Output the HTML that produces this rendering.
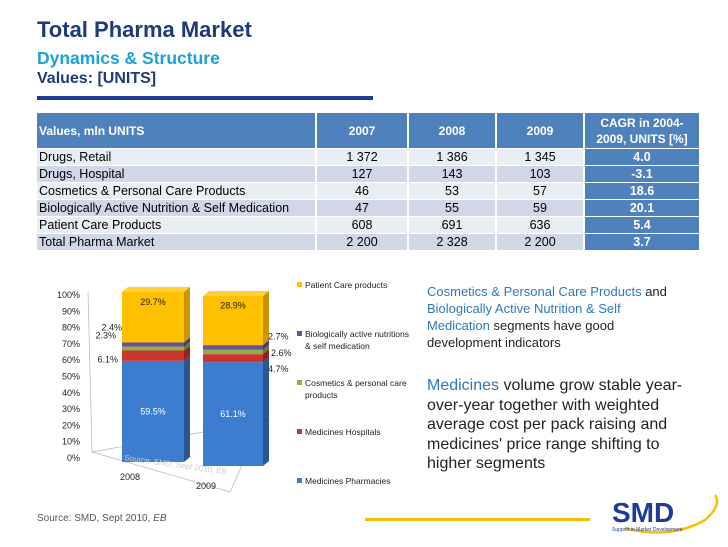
<!DOCTYPE html>
<html><head><meta charset="utf-8"><style>
body{margin:0;width:728px;height:546px;background:#fff;font-family:"Liberation Sans",sans-serif;position:relative;overflow:hidden}
.a{position:absolute}
table{border-collapse:separate;border-spacing:2px 1px;position:absolute;left:35px;top:112px;font-size:12.5px}
td{padding:0 2px;height:16px;line-height:16px}
td.n{text-align:center}
tr.h td{background:#4f81bd;color:#fff;font-weight:bold;height:35px;line-height:16px;font-size:12px}
tr.r td{background:#e9edf4}
tr.r:nth-child(odd) td{background:#d0d8e8}
tr.r td.c{background:#4f81bd;color:#fff;font-weight:bold;text-align:center}
.bl{color:#2e78b8}
</style></head><body>
<div class="a" style="left:37px;top:17px;font-size:22px;font-weight:bold;color:#1f3a7a">Total Pharma Market</div>
<div class="a" style="left:37px;top:48px;font-size:17.5px;font-weight:bold;color:#1ea0d8">Dynamics &amp; Structure</div>
<div class="a" style="left:37px;top:70px;font-size:16px;font-weight:bold;color:#1f3a7a">Values: [UNITS]</div>
<div class="a" style="left:37px;top:96px;width:336px;height:4px;background:#1f3a9a"></div>
<table>
<tr class="h"><td style="width:274px">Values, mln UNITS</td><td class="n" style="width:86px">2007</td><td class="n" style="width:82px">2008</td><td class="n" style="width:82px">2009</td><td class="n" style="width:110px">CAGR in 2004-<br>2009, UNITS [%]</td></tr>
<tr class="r"><td>Drugs, Retail</td><td class="n">1 372</td><td class="n">1 386</td><td class="n">1 345</td><td class="c">4.0</td></tr>
<tr class="r"><td>Drugs, Hospital</td><td class="n">127</td><td class="n">143</td><td class="n">103</td><td class="c">-3.1</td></tr>
<tr class="r"><td>Cosmetics &amp; Personal Care Products</td><td class="n">46</td><td class="n">53</td><td class="n">57</td><td class="c">18.6</td></tr>
<tr class="r"><td>Biologically Active Nutrition &amp; Self Medication</td><td class="n">47</td><td class="n">55</td><td class="n">59</td><td class="c">20.1</td></tr>
<tr class="r"><td>Patient Care Products</td><td class="n">608</td><td class="n">691</td><td class="n">636</td><td class="c">5.4</td></tr>
<tr class="r"><td>Total Pharma Market</td><td class="n">2 200</td><td class="n">2 328</td><td class="n">2 200</td><td class="c">3.7</td></tr>
</table>
<svg class="a" style="left:0;top:0" width="728" height="546" id="ch"></svg>
<div class="a" style="left:427px;top:283px;width:250px;font-size:13px;line-height:17px;color:#222"><span class="bl">Cosmetics &amp; Personal Care Products</span> and <span class="bl">Biologically Active Nutrition &amp; Self Medication</span> segments have good development indicators</div>
<div class="a" style="left:427px;top:376px;width:262px;font-size:16px;line-height:19.5px;color:#222"><span class="bl">Medicines</span> volume grow stable year-over-year together with weighted average cost per pack raising and medicines' price range shifting to higher segments</div>
<div class="a" style="left:365px;top:518px;width:225px;height:3px;background:#f5c000"></div>
<div class="a" style="left:37px;top:513px;font-size:10px;color:#555">Source: SMD, Sept 2010, <i>EB</i></div>
<div class="a" style="left:610px;top:490px;width:110px;height:52px">
<svg width="110" height="52"><path d="M15 38 Q60 50 95 30 Q112 15 105 5" fill="none" stroke="#f5c000" stroke-width="2.5"/>
<text x="2" y="32" font-family="Liberation Sans" font-weight="bold" font-size="28" fill="#1f3a9a">SMD</text>
<text x="2" y="41" font-family="Liberation Sans" font-size="5" fill="#1f3a9a">Support in Market Development</text></svg></div>
<script>
const categories=["2008","2009"];
const seriesNames=["Medicines Pharmacies","Medicines Hospitals","Cosmetics & personal care products","Biologically active nutritions & self medication","Patient Care products"];
const v2008=[59.5,6.1,2.3,2.4,29.7];
const v2009=[61.1,4.7,2.6,2.7,28.9];
const yTicks=[0,10,20,30,40,50,60,70,80,90,100];
const NS="http://www.w3.org/2000/svg",svg=document.getElementById('ch');
function mk(t,a,p){const e=document.createElementNS(NS,t);for(const k in a)e.setAttribute(k,a[k]);(p||svg).appendChild(e);return e;}
const cols=[["#3d7dd0","#2a5694","#4f8ae0"],["#c9352f","#8e2420","#d54a44"],["#8db04a","#627c33","#9fc35a"],["#6a4f9a","#4a376c","#7c61ad"],["#ffc000","#c99500","#ffcf3a"]];
function yAx(v){return 457-v*1.63;}
yTicks.forEach(t=>{const e=mk('text',{x:80,y:yAx(t)+4,'text-anchor':'end','font-size':9,fill:'#222'});e.textContent=t+'%';
});
mk('path',{d:'M88 292 L92 452 L270 420 M92 452 L230 492 L258 430',fill:'none',stroke:'#bbb','stroke-width':0.8});
const data=[v2008,v2009];
const bx=[122,203],bw=[62,60],bb=[462,466];
data.forEach((vals,i)=>{
 const sc=v=>v*1.7;let acc=0;const x=bx[i],w=bw[i],dx=6,dy=5;
 vals.forEach((v,j)=>{const y1=bb[i]-sc(acc),y0=bb[i]-sc(acc+v);
  const r=mk('rect',{x:x,y:y0,width:w,height:y1-y0,fill:cols[j][0]});
  
  mk('polygon',{points:`${x+w},${y0} ${x+w+dx},${y0-dy} ${x+w+dx},${y1-dy} ${x+w},${y1}`,fill:cols[j][1]});
  if(j==vals.length-1)mk('polygon',{points:`${x},${y0} ${x+dx},${y0-dy} ${x+w+dx},${y0-dy} ${x+w},${y0}`,fill:cols[j][2]});
  acc+=v;});
 let a=0;const pos=[];vals.forEach(v=>{pos.push(a+v/2);a+=v;});
 const lbl=(t,xx,yy,c,an)=>{const e=mk('text',{x:xx,y:yy,'font-size':9,fill:c,'text-anchor':an||'middle'});e.textContent=t.toFixed(1)+'%';
  };
 lbl(vals[0],x+w/2,bb[i]-sc(pos[0])+3,'#fff');
 lbl(vals[4],x+w/2,bb[i]-sc(pos[4])-12,'#222');
 if(i==0){lbl(vals[1],118,bb[i]-sc(pos[1])+7,'#222','end');lbl(vals[2],116,bb[i]-sc(pos[2])-10,'#222','end');lbl(vals[3],122,bb[i]-sc(pos[3])-14,'#222','end');}
 else{lbl(vals[1],268,bb[i]-sc(pos[1])+14,'#222','start');lbl(vals[2],271,bb[i]-sc(pos[2])+4,'#222','start');lbl(vals[3],268,bb[i]-sc(pos[3])-8,'#222','start');}
});
[[130,480],[206,489]].forEach((p,i)=>{const e=mk('text',{x:p[0],y:p[1],'font-size':9,fill:'#222','text-anchor':'middle'});e.textContent=categories[i];
});
const wm=mk('text',{x:124,y:460,'font-size':8,fill:'#ccc',transform:'rotate(8 124 460)'});wm.textContent='Source: SMD, Sept 2010, EB';
const ly=[484,435,386,337,288];
seriesNames.forEach((n,j)=>{const g=mk('g',{});
 mk('rect',{x:297,y:ly[j]-6,width:5,height:5,fill:cols[j][0]},g);
 const words=n=='Biologically active nutritions & self medication'?['Biologically active nutritions','& self medication']:n=='Cosmetics & personal care products'?['Cosmetics & personal care','products']:[n];
 words.forEach((w,k)=>{const t=mk('text',{x:305,y:ly[j]+k*12,'font-size':8.5,fill:'#222'},g);t.textContent=w;});});
</script>
</body></html>
